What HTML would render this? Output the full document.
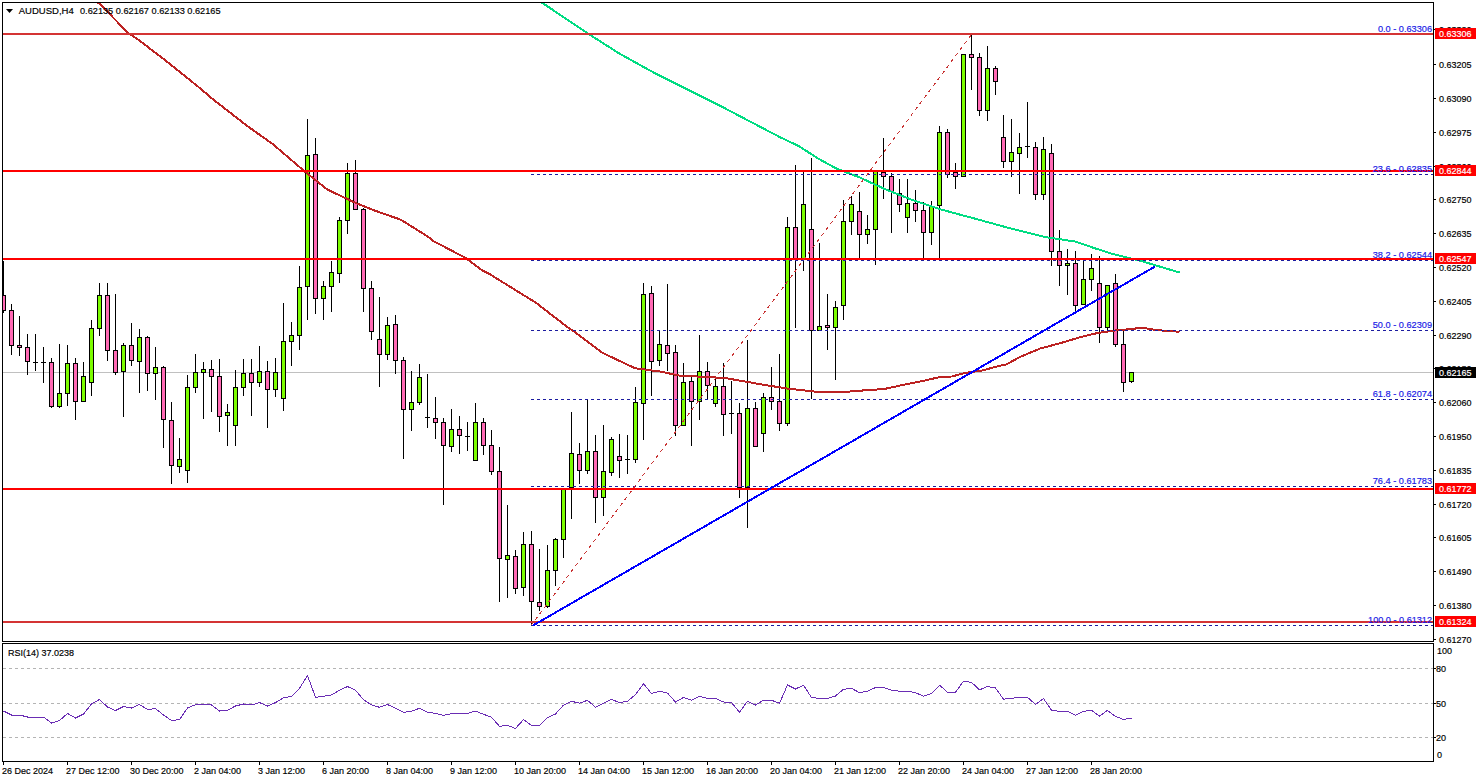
<!DOCTYPE html>
<html><head><meta charset="utf-8"><title>AUDUSD,H4</title><style>html,body{margin:0;padding:0;background:#fff;overflow:hidden;}svg{display:block;}text{font-family:"Liberation Sans",sans-serif;}</style></head><body>
<svg width="1479" height="782" viewBox="0 0 1479 782" font-family='"Liberation Sans", sans-serif'>
<rect x="0" y="0" width="1479" height="782" fill="#fff"/>
<defs><clipPath id="mc"><rect x="3" y="3" width="1430" height="638"/></clipPath><clipPath id="rc"><rect x="3" y="644" width="1430" height="117"/></clipPath></defs>
<g clip-path="url(#mc)">
<rect x="3" y="372" width="1430" height="1" fill="#c0c0c0"/>
<rect x="3" y="261" width="1" height="52" fill="#000"/>
<rect x="1" y="295" width="5" height="16" fill="#000"/>
<rect x="2" y="296" width="3" height="14" fill="#ff69b4"/>
<rect x="11" y="304" width="1" height="51" fill="#000"/>
<rect x="9" y="310" width="5" height="36" fill="#000"/>
<rect x="10" y="311" width="3" height="34" fill="#ff69b4"/>
<rect x="19" y="316" width="1" height="40" fill="#000"/>
<rect x="17" y="345" width="5" height="3" fill="#000"/>
<rect x="18" y="346" width="3" height="1" fill="#ff69b4"/>
<rect x="27" y="334" width="1" height="41" fill="#000"/>
<rect x="25" y="347" width="5" height="15" fill="#000"/>
<rect x="26" y="348" width="3" height="13" fill="#ff69b4"/>
<rect x="35" y="334" width="1" height="37" fill="#000"/>
<rect x="33" y="362" width="5" height="1" fill="#000"/>
<rect x="43" y="347" width="1" height="36" fill="#000"/>
<rect x="41" y="362" width="5" height="1" fill="#000"/>
<rect x="51" y="358" width="1" height="50" fill="#000"/>
<rect x="49" y="362" width="5" height="45" fill="#000"/>
<rect x="50" y="363" width="3" height="43" fill="#ff69b4"/>
<rect x="59" y="344" width="1" height="64" fill="#000"/>
<rect x="57" y="393" width="5" height="14" fill="#000"/>
<rect x="58" y="394" width="3" height="12" fill="#7cfc00"/>
<rect x="67" y="345" width="1" height="61" fill="#000"/>
<rect x="65" y="363" width="5" height="31" fill="#000"/>
<rect x="66" y="364" width="3" height="29" fill="#7cfc00"/>
<rect x="75" y="358" width="1" height="62" fill="#000"/>
<rect x="73" y="363" width="5" height="39" fill="#000"/>
<rect x="74" y="364" width="3" height="37" fill="#ff69b4"/>
<rect x="83" y="362" width="1" height="40" fill="#000"/>
<rect x="81" y="376" width="5" height="26" fill="#000"/>
<rect x="82" y="377" width="3" height="24" fill="#7cfc00"/>
<rect x="91" y="320" width="1" height="76" fill="#000"/>
<rect x="89" y="328" width="5" height="55" fill="#000"/>
<rect x="90" y="329" width="3" height="53" fill="#7cfc00"/>
<rect x="99" y="283" width="1" height="53" fill="#000"/>
<rect x="97" y="295" width="5" height="34" fill="#000"/>
<rect x="98" y="296" width="3" height="32" fill="#7cfc00"/>
<rect x="107" y="283" width="1" height="78" fill="#000"/>
<rect x="105" y="295" width="5" height="56" fill="#000"/>
<rect x="106" y="296" width="3" height="54" fill="#ff69b4"/>
<rect x="115" y="294" width="1" height="81" fill="#000"/>
<rect x="113" y="350" width="5" height="23" fill="#000"/>
<rect x="114" y="351" width="3" height="21" fill="#ff69b4"/>
<rect x="123" y="343" width="1" height="74" fill="#000"/>
<rect x="121" y="345" width="5" height="27" fill="#000"/>
<rect x="122" y="346" width="3" height="25" fill="#7cfc00"/>
<rect x="131" y="323" width="1" height="43" fill="#000"/>
<rect x="129" y="345" width="5" height="16" fill="#000"/>
<rect x="130" y="346" width="3" height="14" fill="#ff69b4"/>
<rect x="139" y="329" width="1" height="64" fill="#000"/>
<rect x="137" y="337" width="5" height="25" fill="#000"/>
<rect x="138" y="338" width="3" height="23" fill="#7cfc00"/>
<rect x="147" y="336" width="1" height="55" fill="#000"/>
<rect x="145" y="337" width="5" height="37" fill="#000"/>
<rect x="146" y="338" width="3" height="35" fill="#ff69b4"/>
<rect x="155" y="347" width="1" height="53" fill="#000"/>
<rect x="153" y="367" width="5" height="7" fill="#000"/>
<rect x="154" y="368" width="3" height="5" fill="#7cfc00"/>
<rect x="163" y="366" width="1" height="82" fill="#000"/>
<rect x="161" y="367" width="5" height="53" fill="#000"/>
<rect x="162" y="368" width="3" height="51" fill="#ff69b4"/>
<rect x="171" y="402" width="1" height="82" fill="#000"/>
<rect x="169" y="420" width="5" height="46" fill="#000"/>
<rect x="170" y="421" width="3" height="44" fill="#ff69b4"/>
<rect x="179" y="438" width="1" height="35" fill="#000"/>
<rect x="177" y="459" width="5" height="8" fill="#000"/>
<rect x="178" y="460" width="3" height="6" fill="#7cfc00"/>
<rect x="187" y="375" width="1" height="108" fill="#000"/>
<rect x="185" y="387" width="5" height="84" fill="#000"/>
<rect x="186" y="388" width="3" height="82" fill="#7cfc00"/>
<rect x="195" y="354" width="1" height="39" fill="#000"/>
<rect x="193" y="372" width="5" height="16" fill="#000"/>
<rect x="194" y="373" width="3" height="14" fill="#7cfc00"/>
<rect x="203" y="362" width="1" height="57" fill="#000"/>
<rect x="201" y="369" width="5" height="4" fill="#000"/>
<rect x="202" y="370" width="3" height="2" fill="#7cfc00"/>
<rect x="211" y="360" width="1" height="52" fill="#000"/>
<rect x="209" y="369" width="5" height="8" fill="#000"/>
<rect x="210" y="370" width="3" height="6" fill="#ff69b4"/>
<rect x="219" y="359" width="1" height="73" fill="#000"/>
<rect x="217" y="376" width="5" height="41" fill="#000"/>
<rect x="218" y="377" width="3" height="39" fill="#ff69b4"/>
<rect x="227" y="404" width="1" height="42" fill="#000"/>
<rect x="225" y="412" width="5" height="4" fill="#000"/>
<rect x="226" y="413" width="3" height="2" fill="#7cfc00"/>
<rect x="235" y="370" width="1" height="76" fill="#000"/>
<rect x="233" y="387" width="5" height="39" fill="#000"/>
<rect x="234" y="388" width="3" height="37" fill="#7cfc00"/>
<rect x="243" y="359" width="1" height="37" fill="#000"/>
<rect x="241" y="373" width="5" height="15" fill="#000"/>
<rect x="242" y="374" width="3" height="13" fill="#7cfc00"/>
<rect x="251" y="359" width="1" height="57" fill="#000"/>
<rect x="249" y="373" width="5" height="10" fill="#000"/>
<rect x="250" y="374" width="3" height="8" fill="#ff69b4"/>
<rect x="259" y="346" width="1" height="41" fill="#000"/>
<rect x="257" y="371" width="5" height="12" fill="#000"/>
<rect x="258" y="372" width="3" height="10" fill="#7cfc00"/>
<rect x="267" y="361" width="1" height="67" fill="#000"/>
<rect x="265" y="371" width="5" height="19" fill="#000"/>
<rect x="266" y="372" width="3" height="17" fill="#ff69b4"/>
<rect x="275" y="358" width="1" height="39" fill="#000"/>
<rect x="273" y="372" width="5" height="18" fill="#000"/>
<rect x="274" y="373" width="3" height="16" fill="#7cfc00"/>
<rect x="283" y="303" width="1" height="108" fill="#000"/>
<rect x="281" y="341" width="5" height="58" fill="#000"/>
<rect x="282" y="342" width="3" height="56" fill="#7cfc00"/>
<rect x="291" y="322" width="1" height="44" fill="#000"/>
<rect x="289" y="335" width="5" height="7" fill="#000"/>
<rect x="290" y="336" width="3" height="5" fill="#7cfc00"/>
<rect x="299" y="266" width="1" height="84" fill="#000"/>
<rect x="297" y="287" width="5" height="49" fill="#000"/>
<rect x="298" y="288" width="3" height="47" fill="#7cfc00"/>
<rect x="307" y="119" width="1" height="201" fill="#000"/>
<rect x="305" y="155" width="5" height="132" fill="#000"/>
<rect x="306" y="156" width="3" height="130" fill="#7cfc00"/>
<rect x="315" y="138" width="1" height="176" fill="#000"/>
<rect x="313" y="154" width="5" height="145" fill="#000"/>
<rect x="314" y="155" width="3" height="143" fill="#ff69b4"/>
<rect x="323" y="281" width="1" height="39" fill="#000"/>
<rect x="321" y="286" width="5" height="13" fill="#000"/>
<rect x="322" y="287" width="3" height="11" fill="#7cfc00"/>
<rect x="331" y="261" width="1" height="51" fill="#000"/>
<rect x="329" y="272" width="5" height="15" fill="#000"/>
<rect x="330" y="273" width="3" height="13" fill="#7cfc00"/>
<rect x="339" y="217" width="1" height="66" fill="#000"/>
<rect x="337" y="220" width="5" height="54" fill="#000"/>
<rect x="338" y="221" width="3" height="52" fill="#7cfc00"/>
<rect x="347" y="163" width="1" height="71" fill="#000"/>
<rect x="345" y="173" width="5" height="48" fill="#000"/>
<rect x="346" y="174" width="3" height="46" fill="#7cfc00"/>
<rect x="355" y="160" width="1" height="50" fill="#000"/>
<rect x="353" y="173" width="5" height="37" fill="#000"/>
<rect x="354" y="174" width="3" height="35" fill="#ff69b4"/>
<rect x="363" y="208" width="1" height="104" fill="#000"/>
<rect x="361" y="209" width="5" height="80" fill="#000"/>
<rect x="362" y="210" width="3" height="78" fill="#ff69b4"/>
<rect x="371" y="281" width="1" height="59" fill="#000"/>
<rect x="369" y="288" width="5" height="44" fill="#000"/>
<rect x="370" y="289" width="3" height="42" fill="#ff69b4"/>
<rect x="379" y="297" width="1" height="90" fill="#000"/>
<rect x="377" y="339" width="5" height="16" fill="#000"/>
<rect x="378" y="340" width="3" height="14" fill="#ff69b4"/>
<rect x="387" y="317" width="1" height="43" fill="#000"/>
<rect x="385" y="325" width="5" height="30" fill="#000"/>
<rect x="386" y="326" width="3" height="28" fill="#7cfc00"/>
<rect x="395" y="315" width="1" height="59" fill="#000"/>
<rect x="393" y="324" width="5" height="37" fill="#000"/>
<rect x="394" y="325" width="3" height="35" fill="#ff69b4"/>
<rect x="403" y="357" width="1" height="102" fill="#000"/>
<rect x="401" y="360" width="5" height="50" fill="#000"/>
<rect x="402" y="361" width="3" height="48" fill="#ff69b4"/>
<rect x="411" y="371" width="1" height="60" fill="#000"/>
<rect x="409" y="402" width="5" height="8" fill="#000"/>
<rect x="410" y="403" width="3" height="6" fill="#7cfc00"/>
<rect x="419" y="364" width="1" height="41" fill="#000"/>
<rect x="417" y="377" width="5" height="26" fill="#000"/>
<rect x="418" y="378" width="3" height="24" fill="#7cfc00"/>
<rect x="427" y="374" width="1" height="54" fill="#000"/>
<rect x="425" y="417" width="5" height="1" fill="#000"/>
<rect x="435" y="397" width="1" height="42" fill="#000"/>
<rect x="433" y="418" width="5" height="5" fill="#000"/>
<rect x="434" y="419" width="3" height="3" fill="#ff69b4"/>
<rect x="443" y="418" width="1" height="87" fill="#000"/>
<rect x="441" y="422" width="5" height="24" fill="#000"/>
<rect x="442" y="423" width="3" height="22" fill="#ff69b4"/>
<rect x="451" y="409" width="1" height="43" fill="#000"/>
<rect x="449" y="429" width="5" height="18" fill="#000"/>
<rect x="450" y="430" width="3" height="16" fill="#7cfc00"/>
<rect x="459" y="416" width="1" height="38" fill="#000"/>
<rect x="457" y="429" width="5" height="7" fill="#000"/>
<rect x="458" y="430" width="3" height="5" fill="#ff69b4"/>
<rect x="467" y="422" width="1" height="29" fill="#000"/>
<rect x="465" y="436" width="5" height="1" fill="#000"/>
<rect x="475" y="403" width="1" height="58" fill="#000"/>
<rect x="473" y="422" width="5" height="39" fill="#000"/>
<rect x="474" y="423" width="3" height="37" fill="#7cfc00"/>
<rect x="483" y="418" width="1" height="37" fill="#000"/>
<rect x="481" y="422" width="5" height="24" fill="#000"/>
<rect x="482" y="423" width="3" height="22" fill="#ff69b4"/>
<rect x="491" y="430" width="1" height="45" fill="#000"/>
<rect x="489" y="445" width="5" height="27" fill="#000"/>
<rect x="490" y="446" width="3" height="25" fill="#ff69b4"/>
<rect x="499" y="447" width="1" height="155" fill="#000"/>
<rect x="497" y="471" width="5" height="88" fill="#000"/>
<rect x="498" y="472" width="3" height="86" fill="#ff69b4"/>
<rect x="507" y="505" width="1" height="93" fill="#000"/>
<rect x="505" y="555" width="5" height="5" fill="#000"/>
<rect x="506" y="556" width="3" height="3" fill="#7cfc00"/>
<rect x="515" y="550" width="1" height="44" fill="#000"/>
<rect x="513" y="556" width="5" height="33" fill="#000"/>
<rect x="514" y="557" width="3" height="31" fill="#ff69b4"/>
<rect x="523" y="532" width="1" height="64" fill="#000"/>
<rect x="521" y="544" width="5" height="44" fill="#000"/>
<rect x="522" y="545" width="3" height="42" fill="#7cfc00"/>
<rect x="531" y="531" width="1" height="94" fill="#000"/>
<rect x="529" y="544" width="5" height="58" fill="#000"/>
<rect x="530" y="545" width="3" height="56" fill="#ff69b4"/>
<rect x="539" y="549" width="1" height="62" fill="#000"/>
<rect x="537" y="602" width="5" height="5" fill="#000"/>
<rect x="538" y="603" width="3" height="3" fill="#ff69b4"/>
<rect x="547" y="545" width="1" height="63" fill="#000"/>
<rect x="545" y="570" width="5" height="37" fill="#000"/>
<rect x="546" y="571" width="3" height="35" fill="#7cfc00"/>
<rect x="555" y="538" width="1" height="48" fill="#000"/>
<rect x="553" y="539" width="5" height="32" fill="#000"/>
<rect x="554" y="540" width="3" height="30" fill="#7cfc00"/>
<rect x="563" y="489" width="1" height="69" fill="#000"/>
<rect x="561" y="489" width="5" height="51" fill="#000"/>
<rect x="562" y="490" width="3" height="49" fill="#7cfc00"/>
<rect x="571" y="412" width="1" height="107" fill="#000"/>
<rect x="569" y="453" width="5" height="35" fill="#000"/>
<rect x="570" y="454" width="3" height="33" fill="#7cfc00"/>
<rect x="579" y="443" width="1" height="41" fill="#000"/>
<rect x="577" y="454" width="5" height="17" fill="#000"/>
<rect x="578" y="455" width="3" height="15" fill="#ff69b4"/>
<rect x="587" y="399" width="1" height="75" fill="#000"/>
<rect x="585" y="451" width="5" height="20" fill="#000"/>
<rect x="586" y="452" width="3" height="18" fill="#7cfc00"/>
<rect x="595" y="435" width="1" height="88" fill="#000"/>
<rect x="593" y="451" width="5" height="47" fill="#000"/>
<rect x="594" y="452" width="3" height="45" fill="#ff69b4"/>
<rect x="603" y="425" width="1" height="91" fill="#000"/>
<rect x="601" y="471" width="5" height="27" fill="#000"/>
<rect x="602" y="472" width="3" height="25" fill="#7cfc00"/>
<rect x="611" y="437" width="1" height="39" fill="#000"/>
<rect x="609" y="439" width="5" height="34" fill="#000"/>
<rect x="610" y="440" width="3" height="32" fill="#7cfc00"/>
<rect x="619" y="434" width="1" height="44" fill="#000"/>
<rect x="617" y="456" width="5" height="5" fill="#000"/>
<rect x="618" y="457" width="3" height="3" fill="#ff69b4"/>
<rect x="627" y="435" width="1" height="39" fill="#000"/>
<rect x="625" y="459" width="5" height="1" fill="#000"/>
<rect x="635" y="387" width="1" height="76" fill="#000"/>
<rect x="633" y="402" width="5" height="58" fill="#000"/>
<rect x="634" y="403" width="3" height="56" fill="#7cfc00"/>
<rect x="643" y="283" width="1" height="157" fill="#000"/>
<rect x="641" y="294" width="5" height="110" fill="#000"/>
<rect x="642" y="295" width="3" height="108" fill="#7cfc00"/>
<rect x="651" y="286" width="1" height="110" fill="#000"/>
<rect x="649" y="293" width="5" height="69" fill="#000"/>
<rect x="650" y="294" width="3" height="67" fill="#ff69b4"/>
<rect x="659" y="330" width="1" height="36" fill="#000"/>
<rect x="657" y="344" width="5" height="17" fill="#000"/>
<rect x="658" y="345" width="3" height="15" fill="#7cfc00"/>
<rect x="667" y="284" width="1" height="87" fill="#000"/>
<rect x="665" y="345" width="5" height="9" fill="#000"/>
<rect x="666" y="346" width="3" height="7" fill="#ff69b4"/>
<rect x="675" y="345" width="1" height="91" fill="#000"/>
<rect x="673" y="352" width="5" height="74" fill="#000"/>
<rect x="674" y="353" width="3" height="72" fill="#ff69b4"/>
<rect x="683" y="363" width="1" height="63" fill="#000"/>
<rect x="681" y="382" width="5" height="44" fill="#000"/>
<rect x="682" y="383" width="3" height="42" fill="#7cfc00"/>
<rect x="691" y="377" width="1" height="69" fill="#000"/>
<rect x="689" y="381" width="5" height="21" fill="#000"/>
<rect x="690" y="382" width="3" height="19" fill="#ff69b4"/>
<rect x="699" y="335" width="1" height="85" fill="#000"/>
<rect x="697" y="371" width="5" height="31" fill="#000"/>
<rect x="698" y="372" width="3" height="29" fill="#7cfc00"/>
<rect x="707" y="362" width="1" height="38" fill="#000"/>
<rect x="705" y="371" width="5" height="15" fill="#000"/>
<rect x="706" y="372" width="3" height="13" fill="#ff69b4"/>
<rect x="715" y="379" width="1" height="28" fill="#000"/>
<rect x="713" y="386" width="5" height="18" fill="#000"/>
<rect x="714" y="387" width="3" height="16" fill="#7cfc00"/>
<rect x="723" y="363" width="1" height="73" fill="#000"/>
<rect x="721" y="386" width="5" height="29" fill="#000"/>
<rect x="722" y="387" width="3" height="27" fill="#ff69b4"/>
<rect x="731" y="381" width="1" height="53" fill="#000"/>
<rect x="729" y="413" width="5" height="1" fill="#000"/>
<rect x="739" y="403" width="1" height="95" fill="#000"/>
<rect x="737" y="413" width="5" height="75" fill="#000"/>
<rect x="738" y="414" width="3" height="73" fill="#ff69b4"/>
<rect x="747" y="340" width="1" height="188" fill="#000"/>
<rect x="745" y="408" width="5" height="80" fill="#000"/>
<rect x="746" y="409" width="3" height="78" fill="#7cfc00"/>
<rect x="755" y="402" width="1" height="45" fill="#000"/>
<rect x="753" y="408" width="5" height="39" fill="#000"/>
<rect x="754" y="409" width="3" height="37" fill="#ff69b4"/>
<rect x="763" y="393" width="1" height="59" fill="#000"/>
<rect x="761" y="397" width="5" height="37" fill="#000"/>
<rect x="762" y="398" width="3" height="35" fill="#7cfc00"/>
<rect x="771" y="367" width="1" height="43" fill="#000"/>
<rect x="769" y="397" width="5" height="5" fill="#000"/>
<rect x="770" y="398" width="3" height="3" fill="#ff69b4"/>
<rect x="779" y="354" width="1" height="77" fill="#000"/>
<rect x="777" y="401" width="5" height="23" fill="#000"/>
<rect x="778" y="402" width="3" height="21" fill="#ff69b4"/>
<rect x="787" y="217" width="1" height="209" fill="#000"/>
<rect x="785" y="227" width="5" height="197" fill="#000"/>
<rect x="786" y="228" width="3" height="195" fill="#7cfc00"/>
<rect x="795" y="165" width="1" height="163" fill="#000"/>
<rect x="793" y="227" width="5" height="33" fill="#000"/>
<rect x="794" y="228" width="3" height="31" fill="#ff69b4"/>
<rect x="803" y="172" width="1" height="99" fill="#000"/>
<rect x="801" y="204" width="5" height="55" fill="#000"/>
<rect x="802" y="205" width="3" height="53" fill="#7cfc00"/>
<rect x="811" y="158" width="1" height="241" fill="#000"/>
<rect x="809" y="229" width="5" height="102" fill="#000"/>
<rect x="810" y="230" width="3" height="100" fill="#ff69b4"/>
<rect x="819" y="243" width="1" height="88" fill="#000"/>
<rect x="817" y="326" width="5" height="5" fill="#000"/>
<rect x="818" y="327" width="3" height="3" fill="#7cfc00"/>
<rect x="827" y="294" width="1" height="56" fill="#000"/>
<rect x="825" y="325" width="5" height="3" fill="#000"/>
<rect x="826" y="326" width="3" height="1" fill="#ff69b4"/>
<rect x="835" y="301" width="1" height="79" fill="#000"/>
<rect x="833" y="307" width="5" height="21" fill="#000"/>
<rect x="834" y="308" width="3" height="19" fill="#7cfc00"/>
<rect x="843" y="200" width="1" height="120" fill="#000"/>
<rect x="841" y="221" width="5" height="85" fill="#000"/>
<rect x="842" y="222" width="3" height="83" fill="#7cfc00"/>
<rect x="851" y="196" width="1" height="39" fill="#000"/>
<rect x="849" y="204" width="5" height="18" fill="#000"/>
<rect x="850" y="205" width="3" height="16" fill="#7cfc00"/>
<rect x="859" y="192" width="1" height="66" fill="#000"/>
<rect x="857" y="211" width="5" height="24" fill="#000"/>
<rect x="858" y="212" width="3" height="22" fill="#ff69b4"/>
<rect x="867" y="215" width="1" height="29" fill="#000"/>
<rect x="865" y="229" width="5" height="6" fill="#000"/>
<rect x="866" y="230" width="3" height="4" fill="#7cfc00"/>
<rect x="875" y="171" width="1" height="94" fill="#000"/>
<rect x="873" y="171" width="5" height="59" fill="#000"/>
<rect x="874" y="172" width="3" height="57" fill="#7cfc00"/>
<rect x="883" y="138" width="1" height="61" fill="#000"/>
<rect x="881" y="172" width="5" height="5" fill="#000"/>
<rect x="882" y="173" width="3" height="3" fill="#ff69b4"/>
<rect x="891" y="173" width="1" height="60" fill="#000"/>
<rect x="889" y="176" width="5" height="16" fill="#000"/>
<rect x="890" y="177" width="3" height="14" fill="#ff69b4"/>
<rect x="899" y="179" width="1" height="33" fill="#000"/>
<rect x="897" y="193" width="5" height="12" fill="#000"/>
<rect x="898" y="194" width="3" height="10" fill="#ff69b4"/>
<rect x="907" y="179" width="1" height="54" fill="#000"/>
<rect x="905" y="203" width="5" height="15" fill="#000"/>
<rect x="906" y="204" width="3" height="13" fill="#7cfc00"/>
<rect x="915" y="190" width="1" height="32" fill="#000"/>
<rect x="913" y="203" width="5" height="8" fill="#000"/>
<rect x="914" y="204" width="3" height="6" fill="#ff69b4"/>
<rect x="923" y="202" width="1" height="57" fill="#000"/>
<rect x="921" y="210" width="5" height="23" fill="#000"/>
<rect x="922" y="211" width="3" height="21" fill="#ff69b4"/>
<rect x="931" y="201" width="1" height="44" fill="#000"/>
<rect x="929" y="206" width="5" height="27" fill="#000"/>
<rect x="930" y="207" width="3" height="25" fill="#7cfc00"/>
<rect x="939" y="126" width="1" height="133" fill="#000"/>
<rect x="937" y="132" width="5" height="74" fill="#000"/>
<rect x="938" y="133" width="3" height="72" fill="#7cfc00"/>
<rect x="947" y="129" width="1" height="49" fill="#000"/>
<rect x="945" y="132" width="5" height="43" fill="#000"/>
<rect x="946" y="133" width="3" height="41" fill="#ff69b4"/>
<rect x="955" y="163" width="1" height="26" fill="#000"/>
<rect x="953" y="172" width="5" height="5" fill="#000"/>
<rect x="954" y="173" width="3" height="3" fill="#ff69b4"/>
<rect x="963" y="54" width="1" height="123" fill="#000"/>
<rect x="961" y="54" width="5" height="123" fill="#000"/>
<rect x="962" y="55" width="3" height="121" fill="#7cfc00"/>
<rect x="971" y="35" width="1" height="55" fill="#000"/>
<rect x="969" y="54" width="5" height="4" fill="#000"/>
<rect x="970" y="55" width="3" height="2" fill="#ff69b4"/>
<rect x="979" y="53" width="1" height="63" fill="#000"/>
<rect x="977" y="57" width="5" height="54" fill="#000"/>
<rect x="978" y="58" width="3" height="52" fill="#ff69b4"/>
<rect x="987" y="46" width="1" height="75" fill="#000"/>
<rect x="985" y="68" width="5" height="43" fill="#000"/>
<rect x="986" y="69" width="3" height="41" fill="#7cfc00"/>
<rect x="995" y="66" width="1" height="29" fill="#000"/>
<rect x="993" y="68" width="5" height="14" fill="#000"/>
<rect x="994" y="69" width="3" height="12" fill="#ff69b4"/>
<rect x="1003" y="115" width="1" height="53" fill="#000"/>
<rect x="1001" y="137" width="5" height="25" fill="#000"/>
<rect x="1002" y="138" width="3" height="23" fill="#ff69b4"/>
<rect x="1011" y="119" width="1" height="58" fill="#000"/>
<rect x="1009" y="152" width="5" height="10" fill="#000"/>
<rect x="1010" y="153" width="3" height="8" fill="#7cfc00"/>
<rect x="1019" y="133" width="1" height="61" fill="#000"/>
<rect x="1017" y="147" width="5" height="7" fill="#000"/>
<rect x="1018" y="148" width="3" height="5" fill="#7cfc00"/>
<rect x="1027" y="102" width="1" height="56" fill="#000"/>
<rect x="1025" y="146" width="5" height="1" fill="#000"/>
<rect x="1035" y="142" width="1" height="58" fill="#000"/>
<rect x="1033" y="147" width="5" height="48" fill="#000"/>
<rect x="1034" y="148" width="3" height="46" fill="#ff69b4"/>
<rect x="1043" y="137" width="1" height="63" fill="#000"/>
<rect x="1041" y="149" width="5" height="46" fill="#000"/>
<rect x="1042" y="150" width="3" height="44" fill="#7cfc00"/>
<rect x="1051" y="144" width="1" height="122" fill="#000"/>
<rect x="1049" y="153" width="5" height="99" fill="#000"/>
<rect x="1050" y="154" width="3" height="97" fill="#ff69b4"/>
<rect x="1059" y="230" width="1" height="56" fill="#000"/>
<rect x="1057" y="251" width="5" height="15" fill="#000"/>
<rect x="1058" y="252" width="3" height="13" fill="#ff69b4"/>
<rect x="1067" y="249" width="1" height="46" fill="#000"/>
<rect x="1065" y="263" width="5" height="3" fill="#000"/>
<rect x="1066" y="264" width="3" height="1" fill="#7cfc00"/>
<rect x="1075" y="251" width="1" height="60" fill="#000"/>
<rect x="1073" y="263" width="5" height="43" fill="#000"/>
<rect x="1074" y="264" width="3" height="41" fill="#ff69b4"/>
<rect x="1083" y="260" width="1" height="45" fill="#000"/>
<rect x="1081" y="279" width="5" height="26" fill="#000"/>
<rect x="1082" y="280" width="3" height="24" fill="#7cfc00"/>
<rect x="1091" y="254" width="1" height="37" fill="#000"/>
<rect x="1089" y="268" width="5" height="12" fill="#000"/>
<rect x="1090" y="269" width="3" height="10" fill="#7cfc00"/>
<rect x="1099" y="256" width="1" height="87" fill="#000"/>
<rect x="1097" y="283" width="5" height="45" fill="#000"/>
<rect x="1098" y="284" width="3" height="43" fill="#ff69b4"/>
<rect x="1107" y="285" width="1" height="46" fill="#000"/>
<rect x="1105" y="285" width="5" height="43" fill="#000"/>
<rect x="1106" y="286" width="3" height="41" fill="#7cfc00"/>
<rect x="1115" y="274" width="1" height="73" fill="#000"/>
<rect x="1113" y="283" width="5" height="62" fill="#000"/>
<rect x="1114" y="284" width="3" height="60" fill="#ff69b4"/>
<rect x="1123" y="330" width="1" height="62" fill="#000"/>
<rect x="1121" y="344" width="5" height="39" fill="#000"/>
<rect x="1122" y="345" width="3" height="37" fill="#ff69b4"/>
<rect x="1131" y="372" width="1" height="11" fill="#000"/>
<rect x="1129" y="372" width="5" height="10" fill="#000"/>
<rect x="1130" y="373" width="3" height="8" fill="#7cfc00"/>
<polyline points="97.0,2.0 100.0,4.0 127.6,32.5 137.4,39.0 165.0,60.1 197.4,86.1 213.7,99.9 247.0,125.8 273.8,144.9 303.1,170.1 327.4,189.6 355.0,202.6 372.9,209.9 401.0,219.8 428.1,236.7 432.5,240.6 465.0,257.6 482.2,270.3 489.3,273.9 513.7,289.0 536.0,302.8 567.3,327.0 573.2,330.9 602.4,352.8 634.9,368.2 660.0,371.5 679.5,375.6 725.0,378.0 757.4,383.7 786.7,388.5 813.5,391.5 838.6,392.4 867.6,390.1 883.7,389.1 907.3,384.0 926.3,380.2 940.5,376.9 951.9,376.5 964.2,373.1 983.1,370.3 1000.0,365.6 1005.0,365.2 1020.0,357.0 1040.4,348.4 1059.2,343.5 1078.4,337.7 1097.5,333.0 1116.7,330.3 1129.5,329.2 1142.5,327.7 1155.1,329.8 1167.9,331.1 1179.5,331.7" fill="none" stroke="#bc2222" stroke-width="2" stroke-linejoin="round" shape-rendering="crispEdges"/>
<polyline points="541.8,2.5 588.2,33.7 618.4,53.0 652.5,71.9 684.7,88.0 718.8,105.1 756.7,125.0 780.0,137.2 798.9,146.1 817.9,158.4 836.8,168.8 859.5,177.3 886.0,189.6 912.5,200.0 940.9,209.5 969.3,217.1 1007.2,227.5 1045.0,237.0 1074.9,241.5 1095.3,248.4 1110.7,253.4 1126.0,257.3 1140.0,260.7 1180.0,272.6" fill="none" stroke="#00dc82" stroke-width="2" stroke-linejoin="round" shape-rendering="crispEdges"/>
<rect x="3" y="33" width="1430" height="2" fill="#d43434"/>
<rect x="3" y="170" width="1430" height="2" fill="#ff0000"/>
<rect x="3" y="258" width="1430" height="2" fill="#ff0000"/>
<rect x="3" y="488" width="1430" height="2" fill="#ff0000"/>
<rect x="3" y="621" width="1430" height="2" fill="#d43434"/>
<line x1="531" y1="174.5" x2="1433" y2="174.5" stroke="#1c1ca0" stroke-width="1" stroke-dasharray="3,3"/>
<line x1="531" y1="260.5" x2="1433" y2="260.5" stroke="#1c1ca0" stroke-width="1" stroke-dasharray="3,3"/>
<line x1="531" y1="330.5" x2="1433" y2="330.5" stroke="#1c1ca0" stroke-width="1" stroke-dasharray="3,3"/>
<line x1="531" y1="399.5" x2="1433" y2="399.5" stroke="#1c1ca0" stroke-width="1" stroke-dasharray="3,3"/>
<line x1="531" y1="486.5" x2="1433" y2="486.5" stroke="#1c1ca0" stroke-width="1" stroke-dasharray="3,3"/>
<line x1="531" y1="625.5" x2="1433" y2="625.5" stroke="#1c1ca0" stroke-width="1" stroke-dasharray="3,3"/>
<line x1="531.5" y1="625" x2="971.5" y2="34.5" stroke="#c83232" stroke-width="1" stroke-dasharray="3.74,3.74" stroke-dashoffset="1" shape-rendering="crispEdges"/>
<line x1="533" y1="625.5" x2="1155" y2="266.5" stroke="#0000ff" stroke-width="2" shape-rendering="crispEdges"/>
</g>
<text transform="translate(1432,32) scale(1,1)" text-anchor="end" font-size="9.5" fill="#1a1ae6" stroke="#1a1ae6" stroke-width="0.18" textLength="54.1" lengthAdjust="spacingAndGlyphs">0.0 - 0.63306</text>
<text transform="translate(1432,172) scale(1,1)" text-anchor="end" font-size="9.5" fill="#1a1ae6" stroke="#1a1ae6" stroke-width="0.18" textLength="59.3" lengthAdjust="spacingAndGlyphs">23.6 - 0.62835</text>
<text transform="translate(1432,258) scale(1,1)" text-anchor="end" font-size="9.5" fill="#1a1ae6" stroke="#1a1ae6" stroke-width="0.18" textLength="59.3" lengthAdjust="spacingAndGlyphs">38.2 - 0.62544</text>
<text transform="translate(1432,328) scale(1,1)" text-anchor="end" font-size="9.5" fill="#1a1ae6" stroke="#1a1ae6" stroke-width="0.18" textLength="59.3" lengthAdjust="spacingAndGlyphs">50.0 - 0.62309</text>
<text transform="translate(1432,397) scale(1,1)" text-anchor="end" font-size="9.5" fill="#1a1ae6" stroke="#1a1ae6" stroke-width="0.18" textLength="59.3" lengthAdjust="spacingAndGlyphs">61.8 - 0.62074</text>
<text transform="translate(1432,484) scale(1,1)" text-anchor="end" font-size="9.5" fill="#1a1ae6" stroke="#1a1ae6" stroke-width="0.18" textLength="59.3" lengthAdjust="spacingAndGlyphs">76.4 - 0.61783</text>
<text transform="translate(1432,623) scale(1,1)" text-anchor="end" font-size="9.5" fill="#1a1ae6" stroke="#1a1ae6" stroke-width="0.18" textLength="63.9" lengthAdjust="spacingAndGlyphs">100.0 - 0.61312</text>
<rect x="2" y="2" width="1432" height="1" fill="#000"/>
<rect x="2" y="641" width="1432" height="1" fill="#000"/>
<rect x="2" y="2" width="1" height="640" fill="#000"/>
<rect x="1433" y="2" width="1" height="640" fill="#000"/>
<rect x="2" y="643" width="1432" height="1" fill="#000"/>
<rect x="2" y="761" width="1432" height="1" fill="#000"/>
<rect x="2" y="643" width="1" height="119" fill="#000"/>
<rect x="1433" y="643" width="1" height="119" fill="#000"/>
<path d="M6,9 L13,9 L9.5,13 Z" fill="#000"/>
<text transform="translate(18.7,14) scale(1,1)" text-anchor="start" font-size="9.5" fill="#000" stroke="#000" stroke-width="0.18" textLength="55" lengthAdjust="spacingAndGlyphs">AUDUSD,H4</text>
<text transform="translate(80,14) scale(1,1)" text-anchor="start" font-size="9.5" fill="#000" stroke="#000" stroke-width="0.18" textLength="140.5" lengthAdjust="spacingAndGlyphs">0.62135 0.62167 0.62133 0.62165</text>
<rect x="1434" y="29" width="2" height="1" fill="#000"/>
<text transform="translate(1439,33) scale(0.947,1)" text-anchor="start" font-size="9.5" fill="#000" stroke="#000" stroke-width="0.18" >0.63320</text>
<rect x="1434" y="64" width="2" height="1" fill="#000"/>
<text transform="translate(1439,68) scale(0.947,1)" text-anchor="start" font-size="9.5" fill="#000" stroke="#000" stroke-width="0.18" >0.63205</text>
<rect x="1434" y="98" width="2" height="1" fill="#000"/>
<text transform="translate(1439,102) scale(0.947,1)" text-anchor="start" font-size="9.5" fill="#000" stroke="#000" stroke-width="0.18" >0.63090</text>
<rect x="1434" y="132" width="2" height="1" fill="#000"/>
<text transform="translate(1439,136) scale(0.947,1)" text-anchor="start" font-size="9.5" fill="#000" stroke="#000" stroke-width="0.18" >0.62975</text>
<rect x="1434" y="166" width="2" height="1" fill="#000"/>
<text transform="translate(1439,170) scale(0.947,1)" text-anchor="start" font-size="9.5" fill="#000" stroke="#000" stroke-width="0.18" >0.62860</text>
<rect x="1434" y="199" width="2" height="1" fill="#000"/>
<text transform="translate(1439,203) scale(0.947,1)" text-anchor="start" font-size="9.5" fill="#000" stroke="#000" stroke-width="0.18" >0.62750</text>
<rect x="1434" y="233" width="2" height="1" fill="#000"/>
<text transform="translate(1439,237) scale(0.947,1)" text-anchor="start" font-size="9.5" fill="#000" stroke="#000" stroke-width="0.18" >0.62635</text>
<rect x="1434" y="267" width="2" height="1" fill="#000"/>
<text transform="translate(1439,271) scale(0.947,1)" text-anchor="start" font-size="9.5" fill="#000" stroke="#000" stroke-width="0.18" >0.62520</text>
<rect x="1434" y="301" width="2" height="1" fill="#000"/>
<text transform="translate(1439,305) scale(0.947,1)" text-anchor="start" font-size="9.5" fill="#000" stroke="#000" stroke-width="0.18" >0.62405</text>
<rect x="1434" y="335" width="2" height="1" fill="#000"/>
<text transform="translate(1439,339) scale(0.947,1)" text-anchor="start" font-size="9.5" fill="#000" stroke="#000" stroke-width="0.18" >0.62290</text>
<rect x="1434" y="368" width="2" height="1" fill="#000"/>
<text transform="translate(1439,372) scale(0.947,1)" text-anchor="start" font-size="9.5" fill="#000" stroke="#000" stroke-width="0.18" >0.62180</text>
<rect x="1434" y="402" width="2" height="1" fill="#000"/>
<text transform="translate(1439,406) scale(0.947,1)" text-anchor="start" font-size="9.5" fill="#000" stroke="#000" stroke-width="0.18" >0.62060</text>
<rect x="1434" y="436" width="2" height="1" fill="#000"/>
<text transform="translate(1439,440) scale(0.947,1)" text-anchor="start" font-size="9.5" fill="#000" stroke="#000" stroke-width="0.18" >0.61950</text>
<rect x="1434" y="470" width="2" height="1" fill="#000"/>
<text transform="translate(1439,474) scale(0.947,1)" text-anchor="start" font-size="9.5" fill="#000" stroke="#000" stroke-width="0.18" >0.61835</text>
<rect x="1434" y="504" width="2" height="1" fill="#000"/>
<text transform="translate(1439,508) scale(0.947,1)" text-anchor="start" font-size="9.5" fill="#000" stroke="#000" stroke-width="0.18" >0.61720</text>
<rect x="1434" y="537" width="2" height="1" fill="#000"/>
<text transform="translate(1439,541) scale(0.947,1)" text-anchor="start" font-size="9.5" fill="#000" stroke="#000" stroke-width="0.18" >0.61605</text>
<rect x="1434" y="571" width="2" height="1" fill="#000"/>
<text transform="translate(1439,575) scale(0.947,1)" text-anchor="start" font-size="9.5" fill="#000" stroke="#000" stroke-width="0.18" >0.61490</text>
<rect x="1434" y="605" width="2" height="1" fill="#000"/>
<text transform="translate(1439,609) scale(0.947,1)" text-anchor="start" font-size="9.5" fill="#000" stroke="#000" stroke-width="0.18" >0.61380</text>
<rect x="1434" y="639" width="2" height="1" fill="#000"/>
<text transform="translate(1439,643) scale(0.947,1)" text-anchor="start" font-size="9.5" fill="#000" stroke="#000" stroke-width="0.18" >0.61270</text>
<rect x="1435" y="28" width="41" height="11" fill="#ff0000"/>
<text transform="translate(1439,37) scale(0.947,1)" text-anchor="start" font-size="9.5" fill="#fff" stroke="#fff" stroke-width="0.18" >0.63306</text>
<rect x="1435" y="165" width="41" height="11" fill="#ff0000"/>
<text transform="translate(1439,174) scale(0.947,1)" text-anchor="start" font-size="9.5" fill="#fff" stroke="#fff" stroke-width="0.18" >0.62844</text>
<rect x="1435" y="253" width="41" height="11" fill="#ff0000"/>
<text transform="translate(1439,262) scale(0.947,1)" text-anchor="start" font-size="9.5" fill="#fff" stroke="#fff" stroke-width="0.18" >0.62547</text>
<rect x="1435" y="367" width="41" height="11" fill="#000"/>
<text transform="translate(1439,376) scale(0.947,1)" text-anchor="start" font-size="9.5" fill="#fff" stroke="#fff" stroke-width="0.18" >0.62165</text>
<rect x="1435" y="483" width="41" height="11" fill="#ff0000"/>
<text transform="translate(1439,492) scale(0.947,1)" text-anchor="start" font-size="9.5" fill="#fff" stroke="#fff" stroke-width="0.18" >0.61772</text>
<rect x="1435" y="616" width="41" height="11" fill="#ff0000"/>
<text transform="translate(1439,625) scale(0.947,1)" text-anchor="start" font-size="9.5" fill="#fff" stroke="#fff" stroke-width="0.18" >0.61324</text>
<g clip-path="url(#rc)">
<line x1="3" y1="668.5" x2="1433" y2="668.5" stroke="#b4b4b4" stroke-width="1" stroke-dasharray="3,3"/>
<line x1="3" y1="703.5" x2="1433" y2="703.5" stroke="#b4b4b4" stroke-width="1" stroke-dasharray="3,3"/>
<line x1="3" y1="737.5" x2="1433" y2="737.5" stroke="#b4b4b4" stroke-width="1" stroke-dasharray="3,3"/>
<polyline points="3.5,711.0 11.5,715.0 19.5,715.0 27.5,717.0 35.5,717.0 43.5,717.0 51.5,723.0 59.5,720.5 67.5,713.5 75.5,718.0 83.5,714.0 91.5,704.0 99.5,699.5 107.5,707.0 115.5,710.5 123.5,706.5 131.5,708.0 139.5,704.5 147.5,709.5 155.5,708.7 163.5,715.0 171.5,720.5 179.5,719.6 187.5,708.0 195.5,704.7 203.5,704.5 211.5,705.0 219.5,711.0 227.5,710.2 235.5,706.0 243.5,704.0 251.5,705.0 259.5,702.6 267.5,706.0 275.5,702.6 283.5,697.9 291.5,696.3 299.5,688.4 307.5,675.5 315.5,697.3 323.5,696.3 331.5,695.0 339.5,690.3 347.5,686.5 355.5,690.3 363.5,699.8 371.5,704.9 379.5,707.3 387.5,704.5 395.5,708.3 403.5,712.4 411.5,711.1 419.5,708.3 427.5,712.1 435.5,713.4 443.5,715.3 451.5,713.6 459.5,713.4 467.5,713.4 475.5,711.1 483.5,714.3 491.5,717.2 499.5,726.3 507.5,725.3 515.5,728.5 523.5,719.6 531.5,725.3 539.5,725.3 547.5,717.7 555.5,714.0 563.5,705.1 571.5,701.3 579.5,703.2 587.5,700.3 595.5,707.3 603.5,703.2 611.5,699.4 619.5,702.6 627.5,701.3 635.5,694.6 643.5,683.7 651.5,693.5 659.5,691.2 667.5,693.1 675.5,702.0 683.5,697.5 691.5,700.3 699.5,696.3 707.5,698.4 715.5,698.4 723.5,702.0 731.5,702.6 739.5,712.1 747.5,701.3 755.5,705.1 763.5,700.3 771.5,700.3 779.5,703.2 787.5,685.0 795.5,689.0 803.5,685.2 811.5,697.5 819.5,698.4 827.5,698.4 835.5,696.0 843.5,689.3 851.5,688.4 859.5,692.6 867.5,691.2 875.5,687.5 883.5,687.5 891.5,690.3 899.5,691.2 907.5,691.2 915.5,692.6 923.5,696.3 931.5,693.5 939.5,685.2 947.5,692.2 955.5,692.2 963.5,681.2 971.5,682.3 979.5,689.9 987.5,686.5 995.5,688.0 1003.5,699.2 1011.5,698.4 1019.5,697.3 1027.5,697.3 1035.5,704.5 1043.5,698.6 1051.5,710.2 1059.5,711.4 1067.5,711.4 1075.5,715.3 1083.5,711.4 1091.5,710.2 1099.5,716.1 1107.5,710.4 1115.5,716.5 1123.5,719.4 1131.5,718.3" fill="none" stroke="#6a2db4" stroke-width="1" shape-rendering="crispEdges"/>
</g>
<text transform="translate(8,656) scale(0.947,1)" text-anchor="start" font-size="9.5" fill="#000" stroke="#000" stroke-width="0.18" >RSI(14) 37.0238</text>
<text transform="translate(1437,654) scale(0.947,1)" text-anchor="start" font-size="9.5" fill="#000" stroke="#000" stroke-width="0.18" >100</text>
<text transform="translate(1436,672) scale(0.947,1)" text-anchor="start" font-size="9.5" fill="#000" stroke="#000" stroke-width="0.18" >80</text>
<text transform="translate(1436,707) scale(0.947,1)" text-anchor="start" font-size="9.5" fill="#000" stroke="#000" stroke-width="0.18" >50</text>
<text transform="translate(1436,741) scale(0.947,1)" text-anchor="start" font-size="9.5" fill="#000" stroke="#000" stroke-width="0.18" >20</text>
<text transform="translate(1437,758) scale(0.947,1)" text-anchor="start" font-size="9.5" fill="#000" stroke="#000" stroke-width="0.18" >0</text>
<rect x="1434" y="668" width="2" height="1" fill="#000"/>
<rect x="1434" y="703" width="2" height="1" fill="#000"/>
<rect x="1434" y="737" width="2" height="1" fill="#000"/>
<rect x="3" y="762" width="1" height="3" fill="#000"/>
<text transform="translate(2,774) scale(0.947,1)" text-anchor="start" font-size="9.5" fill="#000" stroke="#000" stroke-width="0.18" >26 Dec 2024</text>
<rect x="67" y="762" width="1" height="3" fill="#000"/>
<text transform="translate(66,774) scale(0.947,1)" text-anchor="start" font-size="9.5" fill="#000" stroke="#000" stroke-width="0.18" >27 Dec 12:00</text>
<rect x="131" y="762" width="1" height="3" fill="#000"/>
<text transform="translate(130,774) scale(0.947,1)" text-anchor="start" font-size="9.5" fill="#000" stroke="#000" stroke-width="0.18" >30 Dec 20:00</text>
<rect x="195" y="762" width="1" height="3" fill="#000"/>
<text transform="translate(194,774) scale(0.947,1)" text-anchor="start" font-size="9.5" fill="#000" stroke="#000" stroke-width="0.18" >2 Jan 04:00</text>
<rect x="259" y="762" width="1" height="3" fill="#000"/>
<text transform="translate(258,774) scale(0.947,1)" text-anchor="start" font-size="9.5" fill="#000" stroke="#000" stroke-width="0.18" >3 Jan 12:00</text>
<rect x="323" y="762" width="1" height="3" fill="#000"/>
<text transform="translate(322,774) scale(0.947,1)" text-anchor="start" font-size="9.5" fill="#000" stroke="#000" stroke-width="0.18" >6 Jan 20:00</text>
<rect x="387" y="762" width="1" height="3" fill="#000"/>
<text transform="translate(386,774) scale(0.947,1)" text-anchor="start" font-size="9.5" fill="#000" stroke="#000" stroke-width="0.18" >8 Jan 04:00</text>
<rect x="451" y="762" width="1" height="3" fill="#000"/>
<text transform="translate(450,774) scale(0.947,1)" text-anchor="start" font-size="9.5" fill="#000" stroke="#000" stroke-width="0.18" >9 Jan 12:00</text>
<rect x="515" y="762" width="1" height="3" fill="#000"/>
<text transform="translate(514,774) scale(0.947,1)" text-anchor="start" font-size="9.5" fill="#000" stroke="#000" stroke-width="0.18" >10 Jan 20:00</text>
<rect x="579" y="762" width="1" height="3" fill="#000"/>
<text transform="translate(578,774) scale(0.947,1)" text-anchor="start" font-size="9.5" fill="#000" stroke="#000" stroke-width="0.18" >14 Jan 04:00</text>
<rect x="643" y="762" width="1" height="3" fill="#000"/>
<text transform="translate(642,774) scale(0.947,1)" text-anchor="start" font-size="9.5" fill="#000" stroke="#000" stroke-width="0.18" >15 Jan 12:00</text>
<rect x="707" y="762" width="1" height="3" fill="#000"/>
<text transform="translate(706,774) scale(0.947,1)" text-anchor="start" font-size="9.5" fill="#000" stroke="#000" stroke-width="0.18" >16 Jan 20:00</text>
<rect x="771" y="762" width="1" height="3" fill="#000"/>
<text transform="translate(770,774) scale(0.947,1)" text-anchor="start" font-size="9.5" fill="#000" stroke="#000" stroke-width="0.18" >20 Jan 04:00</text>
<rect x="835" y="762" width="1" height="3" fill="#000"/>
<text transform="translate(834,774) scale(0.947,1)" text-anchor="start" font-size="9.5" fill="#000" stroke="#000" stroke-width="0.18" >21 Jan 12:00</text>
<rect x="899" y="762" width="1" height="3" fill="#000"/>
<text transform="translate(898,774) scale(0.947,1)" text-anchor="start" font-size="9.5" fill="#000" stroke="#000" stroke-width="0.18" >22 Jan 20:00</text>
<rect x="963" y="762" width="1" height="3" fill="#000"/>
<text transform="translate(962,774) scale(0.947,1)" text-anchor="start" font-size="9.5" fill="#000" stroke="#000" stroke-width="0.18" >24 Jan 04:00</text>
<rect x="1027" y="762" width="1" height="3" fill="#000"/>
<text transform="translate(1026,774) scale(0.947,1)" text-anchor="start" font-size="9.5" fill="#000" stroke="#000" stroke-width="0.18" >27 Jan 12:00</text>
<rect x="1091" y="762" width="1" height="3" fill="#000"/>
<text transform="translate(1090,774) scale(0.947,1)" text-anchor="start" font-size="9.5" fill="#000" stroke="#000" stroke-width="0.18" >28 Jan 20:00</text>
</svg>
</body></html>
